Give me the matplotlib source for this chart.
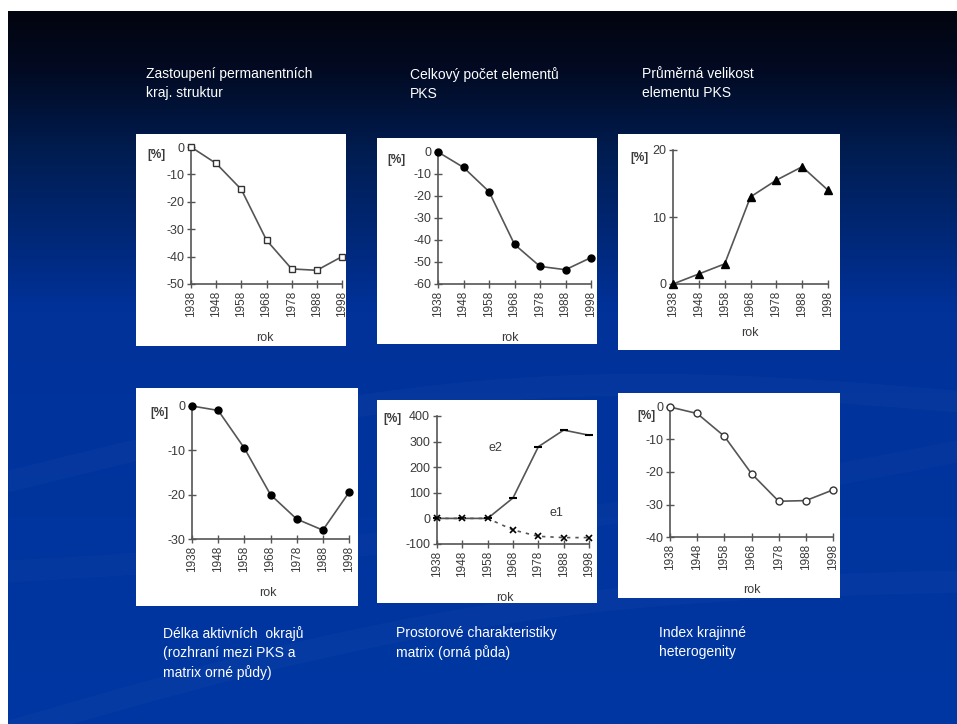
import matplotlib.pyplot as plt
import numpy as np
from matplotlib.colors import LinearSegmentedColormap
from matplotlib.patches import Rectangle

plt.rcParams["font.family"] = ["Liberation Sans", "DejaVu Sans"]
plt.rcParams["axes.unicode_minus"] = False

W, H = 957, 724

years = [1938, 1948, 1958, 1968, 1978, 1988, 1998]
year_labels = [str(y) for y in years]

permanent = [0, -6, -15.5, -34, -44.5, -45, -40]
element_count = [0, -7, -18, -42, -52, -53.5, -48]
element_size = [0, 1.5, 3, 13, 15.5, 17.5, 14]
edge_length = [0, -1, -9.5, -20, -25.5, -28, -19.5]
matrix_e2 = [0, 0, 0, 80, 280, 345, 325]
matrix_e1 = [0, 0, 0, -45, -70, -75, -75]
heterogeneity = [0, -2, -9, -20.5, -29, -28.8, -25.5]

titles_top = [
    "Zastoupení permanentních\nkraj. struktur",
    "Celkový počet elementů\nPKS",
    "Průměrná velikost\nelementu PKS",
]
titles_bottom = [
    "Délka aktivních  okrajů\n(rozhraní mezi PKS a\nmatrix orné půdy)",
    "Prostorové charakteristiky\nmatrix (orná půda)",
    "Index krajinné\nheterogenity",
]

fig = plt.figure(figsize=(W / 100, H / 100), dpi=100)
fig.patch.set_facecolor("white")

# slide background (pixel coordinates)
bg = fig.add_axes([0, 0, 1, 1])
bg.set_xlim(0, W)
bg.set_ylim(H, 0)
bg.axis("off")
cmap = LinearSegmentedColormap.from_list(
    "slide",
    [(0.0, "#03050f"), (0.08, "#020a22"), (0.2, "#001d52"),
     (0.42, "#00329a"), (1.0, "#0037a2")],
)
grad = np.linspace(0, 1, 256)[:, None]
bg.imshow(grad, cmap=cmap, extent=[8, W, H, 11], aspect="auto", zorder=0)

# faint swooshes in the lower part
xs = np.linspace(8, W, 200)
for y0, y1, bend, a in [(470, 390, 50, 0.025), (720, 570, 40, 0.025), (560, 440, -20, 0.02)]:
    t = (xs - 8) / (W - 8)
    yc = y0 + (y1 - y0) * t - bend * np.sin(np.pi * t)
    bg.fill_between(xs, yc, yc + 22, color="white", alpha=a, lw=0, zorder=1)

# white panels: (left, top, right, bottom) in pixels
panels = [
    (136, 134, 346, 346),
    (377, 138, 597, 344),
    (618, 134, 840, 350),
    (136, 388, 358, 606),
    (377, 400, 597, 603),
    (618, 393, 840, 598),
]
for l, t, r, b in panels:
    bg.add_patch(Rectangle((l, t), r - l, b - t, facecolor="white", edgecolor="none", zorder=2))

# title texts
for (x, y), txt in zip([(146, 67), (410, 67), (642, 67)], titles_top):
    bg.text(x, y, txt, color="white", fontsize=10, va="top", ha="left", linespacing=1.45, zorder=3)
for (x, y), txt in zip([(163, 626), (396, 626), (659, 626)], titles_bottom):
    bg.text(x, y, txt, color="white", fontsize=10, va="top", ha="left", linespacing=1.45, zorder=3)

# axes boxes in pixels: (left, top, right, bottom)
boxes = [
    (191, 147, 342, 284),
    (438, 152, 591, 284),
    (673, 150, 828, 284),
    (192, 406, 349, 539),
    (437, 416, 589, 544),
    (670, 407, 833, 537),
]
pct_pos = [(147, 155), (387, 160), (630, 158), (150, 413), (383, 419), (637, 416)]
rok_pos = [(265, 338), (510, 338), (750, 333), (268, 593), (505, 598), (752, 590)]

ylims = [(-50, 0), (-60, 0), (0, 20), (-30, 0), (-100, 400), (-40, 0)]
yticks = [
    np.arange(-50, 1, 10),
    np.arange(-60, 1, 10),
    [0, 10, 20],
    [-30, -20, -10, 0],
    np.arange(-100, 401, 100),
    np.arange(-40, 1, 10),
]

line_c = "#555555"
text_c = "#3a3a3a"

axes = []
for (l, t, r, b), yl, yt, (px, py), (rx, ry) in zip(boxes, ylims, yticks, pct_pos, rok_pos):
    ax = fig.add_axes([l / W, 1 - b / H, (r - l) / W, (b - t) / H])
    ax.set_facecolor("none")
    ax.set_xlim(1938, 1998)
    ax.set_ylim(*yl)
    ax.set_yticks(yt)
    ax.set_xticks(years)
    ax.set_xticklabels(year_labels, rotation=90)
    for s in ["top", "right"]:
        ax.spines[s].set_visible(False)
    for s in ["left", "bottom"]:
        ax.spines[s].set_color(line_c)
        ax.spines[s].set_linewidth(1.2)
    ax.tick_params(direction="inout", length=6, width=1, color=line_c,
                   labelsize=9, labelcolor=text_c, pad=2)
    ax.tick_params(axis="x", labelsize=8.5)
    bg.text(px, py, "[%]", fontsize=8.5, color=text_c, fontweight="bold", ha="left", va="center", zorder=3)
    bg.text(rx, ry, "rok", fontsize=9, color=text_c, ha="center", va="center", zorder=3)
    axes.append(ax)

kw = dict(color=line_c, lw=1.2, clip_on=False, zorder=3)
axes[0].plot(years, permanent, marker="s", ms=5, mfc="white", mec="#333333", mew=1, **kw)
axes[1].plot(years, element_count, marker="o", ms=5, mfc="black", mec="black", **kw)
axes[2].plot(years, element_size, marker="^", ms=6, mfc="black", mec="black", **kw)
axes[3].plot(years, edge_length, marker="o", ms=5, mfc="black", mec="black", **kw)
axes[4].plot(years, matrix_e2, marker="_", ms=6, mec="black", mew=1.5, **kw)
axes[4].plot(years, matrix_e1, marker="x", ms=4.5, mec="black", mew=1.2, ls=(0, (2, 3)), **kw)
axes[4].text(1961, 275, "e2", fontsize=9, color=text_c, ha="center", va="center")
axes[4].text(1985, 20, "e1", fontsize=9, color=text_c, ha="center", va="center")
axes[5].plot(years, heterogeneity, marker="o", ms=5, mfc="white", mec="#333333", mew=1, **kw)

fig.savefig("out.png", dpi=100)
